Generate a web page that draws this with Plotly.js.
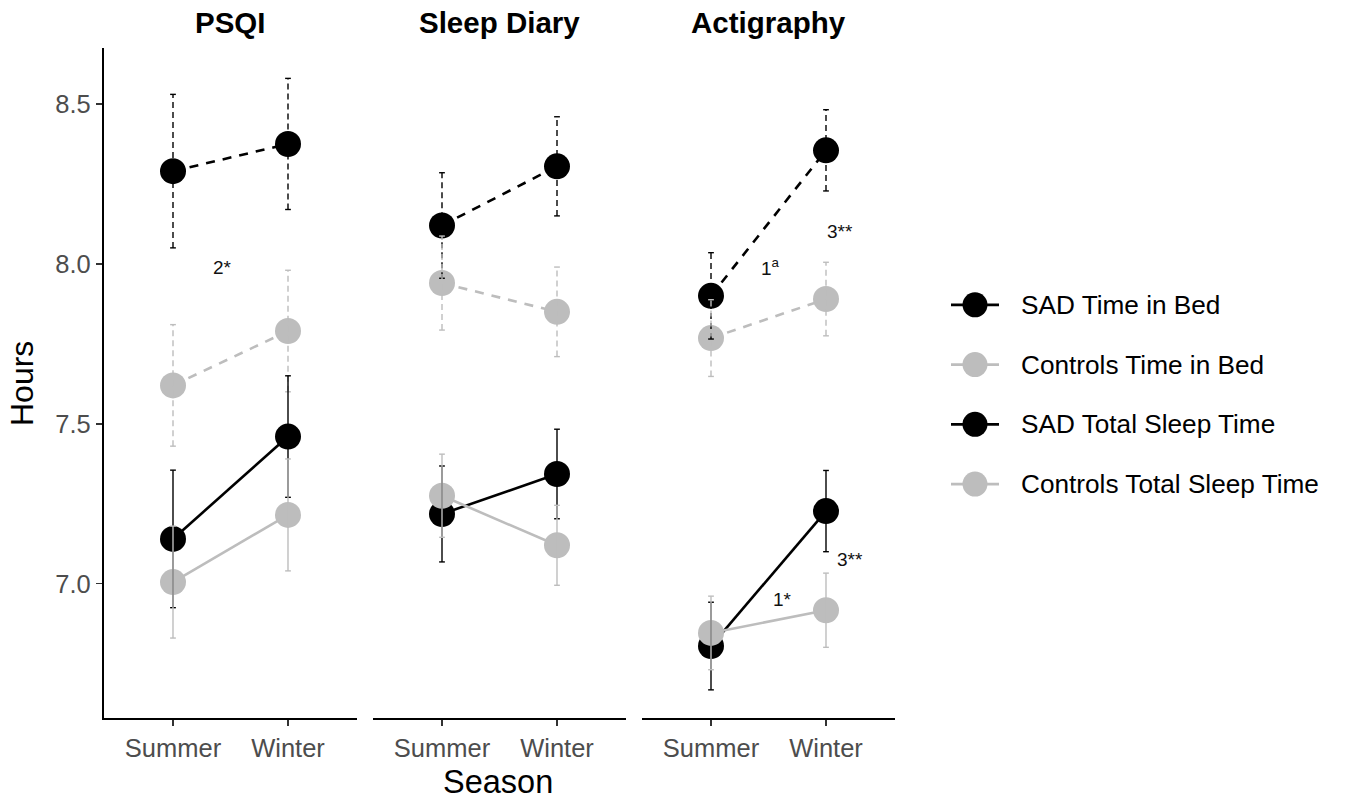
<!DOCTYPE html>
<html>
<head>
<meta charset="utf-8">
<script src="https://cdn.plot.ly/plotly-3.0.1.min.js"></script>
<style>html,body{margin:0;padding:0;background:#fff}#chart{width:1353px;height:804px}</style>
</head>
<body>
<div id="chart"></div>
<script>
// ---------- data ----------
const seasons = ["Summer", "Winter"];
const panels = ["PSQI", "Sleep Diary", "Actigraphy"];
const seriesNames = ["SAD Time in Bed", "Controls Time in Bed", "SAD Total Sleep Time", "Controls Total Sleep Time"];

// means [series][season]
const psqiMean = [[8.29, 8.375], [7.62, 7.79], [7.14, 7.46], [7.005, 7.215]];
const psqiErr  = [[0.24, 0.205], [0.19, 0.19], [0.215, 0.19], [0.175, 0.175]];
const diaryMean = [[8.12, 8.305], [7.94, 7.85], [7.218, 7.343], [7.275, 7.12]];
const diaryErr  = [[0.165, 0.155], [0.147, 0.14], [0.15, 0.14], [0.13, 0.125]];
const actiMean = [[7.90, 8.355], [7.768, 7.89], [6.805, 7.227], [6.846, 6.917]];
const actiErr  = [[0.135, 0.127], [0.12, 0.115], [0.137, 0.127], [0.115, 0.116]];

// significance labels
const sigLabels = ["2*", "1<sup>a</sup>", "3**", "1*", "3**"];
const sigPanel  = [0, 2, 2, 2, 2];
const sigX      = [0.43, 0.52, 1.12, 0.62, 1.21];
const sigY      = [7.99, 7.99, 8.10, 6.95, 7.075];

const yTicks = [7.0, 7.5, 8.0, 8.5];

// ---------- styles ----------
const means = [psqiMean, diaryMean, actiMean];
const errs = [psqiErr, diaryErr, actiErr];
const seriesColor = ["#000000", "#bdbdbd", "#000000", "#bdbdbd"];
const seriesDashed = [true, true, false, false];
const W = 1353, H = 804;
const FONT = "Liberation Sans, Arial, Helvetica, sans-serif";
const panelPx = [[104, 357], [373, 626], [642, 895]];
const plotTop = 48, plotBottom = 718;
const capHalf = 0.025;
const seasonX = seasons.map((s, i) => i);

const traces = [];
panels.forEach((p, pi) => {
  const xa = pi === 0 ? 'x' : 'x' + (pi + 1);
  const ya = pi === 0 ? 'y' : 'y' + (pi + 1);
  const m = means[pi], e = errs[pi];
  seriesNames.forEach((n, s) => {
    traces.push({
      x: seasonX, y: m[s], xaxis: xa, yaxis: ya, type: 'scatter', mode: 'lines',
      line: {color: seriesColor[s], width: 2.6, dash: seriesDashed[s] ? '9px,8px' : 'solid'},
      showlegend: false, hoverinfo: 'skip'
    });
  });
  seriesNames.forEach((n, s) => {
    traces.push({
      x: seasonX, y: m[s], xaxis: xa, yaxis: ya, type: 'scatter', mode: 'markers',
      marker: {color: seriesColor[s], size: 26, line: {width: 0}},
      name: n, showlegend: false
    });
  });
  seriesNames.forEach((n, s) => {
    const vx = [], vy = [], cx = [], cy = [];
    seasonX.forEach((xv, i) => {
      const lo = m[s][i] - e[s][i], hi = m[s][i] + e[s][i];
      vx.push(xv, xv, null); vy.push(lo, hi, null);
      cx.push(xv - capHalf, xv + capHalf, null, xv - capHalf, xv + capHalf, null);
      cy.push(hi, hi, null, lo, lo, null);
    });
    traces.push({
      x: vx, y: vy, xaxis: xa, yaxis: ya, type: 'scatter', mode: 'lines',
      line: {color: seriesColor[s], width: 1.4, dash: seriesDashed[s] ? '6px,4px' : 'solid'},
      showlegend: false, hoverinfo: 'skip', connectgaps: false
    });
    traces.push({
      x: cx, y: cy, xaxis: xa, yaxis: ya, type: 'scatter', mode: 'lines',
      line: {color: seriesColor[s], width: 1.4},
      showlegend: false, hoverinfo: 'skip', connectgaps: false
    });
  });
});

// manual legend
seriesNames.forEach((n, s) => {
  traces.push({
    x: [0, 2], y: [s, s], xaxis: 'x4', yaxis: 'y4', type: 'scatter', mode: 'lines',
    line: {color: seriesColor[s], width: 2.6}, showlegend: false, hoverinfo: 'skip'
  });
  traces.push({
    x: [1], y: [s], xaxis: 'x4', yaxis: 'y4', type: 'scatter', mode: 'markers',
    marker: {color: seriesColor[s], size: 25}, showlegend: false, hoverinfo: 'skip'
  });
});

const layout = {
  width: W, height: H,
  margin: {l: 0, r: 0, t: 0, b: 0},
  paper_bgcolor: '#ffffff', plot_bgcolor: '#ffffff',
  showlegend: false,
  font: {family: FONT, color: '#000'},
  annotations: []
};

const yDomain = [1 - plotBottom / H, 1 - plotTop / H];
panels.forEach((p, pi) => {
  const xk = pi === 0 ? 'xaxis' : 'xaxis' + (pi + 1);
  const yk = pi === 0 ? 'yaxis' : 'yaxis' + (pi + 1);
  layout[xk] = {
    domain: [panelPx[pi][0] / W, panelPx[pi][1] / W],
    range: [-0.6, 1.6], anchor: pi === 0 ? 'y' : 'y' + (pi + 1),
    tickvals: seasonX, ticktext: seasons,
    showline: true, linecolor: '#000', linewidth: 2.2,
    ticks: 'outside', ticklen: 6, tickwidth: 1.5, tickcolor: '#333',
    tickfont: {family: FONT, size: 25.5, color: '#4d4d4d'},
    showgrid: false, zeroline: false, fixedrange: true
  };
  layout[yk] = {
    domain: yDomain, range: [6.58, 8.675], anchor: pi === 0 ? 'x' : 'x' + (pi + 1),
    showgrid: false, zeroline: false, fixedrange: true
  };
  if (pi === 0) {
    Object.assign(layout[yk], {
      tickvals: yTicks, ticktext: yTicks.map(v => v.toFixed(1)),
      showline: true, linecolor: '#000', linewidth: 2.2,
      ticks: 'outside', ticklen: 6, tickwidth: 1.5, tickcolor: '#333',
      tickfont: {family: FONT, size: 25.5, color: '#4d4d4d'}
    });
  } else {
    Object.assign(layout[yk], {visible: false});
  }
  layout.annotations.push({
    text: '<b>' + p + '</b>', xref: 'paper', yref: 'paper',
    x: (panelPx[pi][0] + panelPx[pi][1]) / 2 / W, y: 1 - 22 / H,
    xanchor: 'center', yanchor: 'middle', showarrow: false,
    font: {family: FONT, size: 29.5, color: '#000'}
  });
});

// legend axes
layout.xaxis4 = {domain: [951 / W, 999 / W], range: [0, 2], visible: false, fixedrange: true, anchor: 'y4'};
layout.yaxis4 = {domain: [1 - 514 / H, 1 - 275 / H], range: [3.5, -0.5], visible: false, fixedrange: true, anchor: 'x4'};
seriesNames.forEach((n, s) => {
  layout.annotations.push({
    text: n, xref: 'paper', yref: 'y4', x: 1019 / W, y: s,
    xanchor: 'left', yanchor: 'middle', showarrow: false,
    font: {family: FONT, size: 26.2, color: '#000'}
  });
});

// significance annotations
sigLabels.forEach((t, k) => {
  const pi = sigPanel[k];
  layout.annotations.push({
    text: t, xref: pi === 0 ? 'x' : 'x' + (pi + 1), yref: pi === 0 ? 'y' : 'y' + (pi + 1),
    x: sigX[k], y: sigY[k], xanchor: 'center', yanchor: 'middle', showarrow: false,
    font: {family: FONT, size: 19, color: '#111'}
  });
});

// axis titles
layout.annotations.push({
  text: 'Hours', xref: 'paper', yref: 'paper', x: 22 / W, y: 1 - 384 / H,
  textangle: -90, xanchor: 'center', yanchor: 'middle', showarrow: false,
  font: {family: FONT, size: 32, color: '#000'}
});
layout.annotations.push({
  text: 'Season', xref: 'paper', yref: 'paper', x: 498 / W, y: 1 - 782 / H,
  xanchor: 'center', yanchor: 'middle', showarrow: false,
  font: {family: FONT, size: 32.5, color: '#000'}
});

Plotly.newPlot('chart', traces, layout, {displayModeBar: false, staticPlot: true});
</script>
</body>
</html>
